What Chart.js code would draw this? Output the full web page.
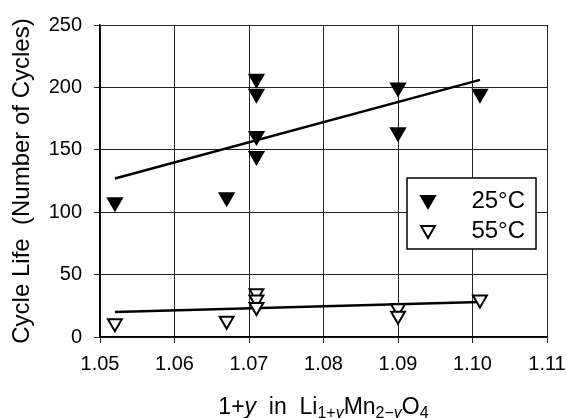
<!DOCTYPE html>
<html>
<head>
<meta charset="utf-8">
<script src="https://cdn.jsdelivr.net/npm/chart.js@4/dist/chart.umd.min.js"></script>
<style>
  html, body { margin: 0; padding: 0; background: #fff; }
  #wrap { width: 567px; height: 418px; }
</style>
</head>
<body>
<div id="wrap"><canvas id="cycleChart" width="567" height="418"></canvas></div>
<script>
const FONT = "'Liberation Sans', Arial, sans-serif";

// 25°C measurements
const comp25 = [1.052, 1.067, 1.071, 1.071, 1.071, 1.071, 1.090, 1.090, 1.101];
const cycles25 = [108, 112, 207, 195, 161, 145, 200, 164, 195];
// 55°C measurements
const comp55 = [1.052, 1.067, 1.071, 1.071, 1.071, 1.090, 1.090, 1.101];
const cycles55 = [11, 13, 35, 30, 24, 23, 17, 30];
// linear fits
const fitX = [1.052, 1.101];
const fit25 = [127, 206];
const fit55 = [20, 28];

const xTicks = [1.05, 1.06, 1.07, 1.08, 1.09, 1.10, 1.11];
const legendLabels = ["25°C", "55°C"];

const toPoints = (xs, ys) => xs.map((x, i) => ({ x: x, y: ys[i] }));

const ctx = document.getElementById("cycleChart").getContext("2d");

// legend box drawn inside the plot area
const boxLegend = {
  id: "boxLegend",
  afterDraw(chart) {
    const c = chart.ctx;
    const area = chart.chartArea;
    const left = area.left + 307, top = area.top + 153;
    const w = 129, h = 71;
    c.save();
    c.fillStyle = "#fff";
    c.fillRect(left, top, w, h);
    c.strokeStyle = "#000";
    c.lineWidth = 1.5;
    c.strokeRect(left, top, w, h);
    c.font = "24px " + FONT;
    c.textAlign = "right";
    c.textBaseline = "middle";
    [0, 1].forEach(i => {
      const ds = chart.data.datasets[i];
      const y = top + 22 + i * 30;
      const mx = left + 21;
      const r = ds.pointRadius;
      c.fillStyle = ds.pointBackgroundColor;
      c.strokeStyle = "#000";
      c.lineWidth = ds.pointBorderWidth;
      c.beginPath();
      c.moveTo(mx - r * 0.866, y - r / 2);
      c.lineTo(mx + r * 0.866, y - r / 2);
      c.lineTo(mx, y + r);
      c.closePath();
      c.fill();
      if (ds.pointBorderWidth) c.stroke();
      c.fillStyle = "#000";
      c.fillText(legendLabels[i], left + w - 11, y + 1);
    });
    c.restore();
  }
};

// x axis title with italic y and subscripts
const formulaTitle = {
  id: "formulaTitle",
  afterDraw(chart) {
    const c = chart.ctx;
    const area = chart.chartArea;
    const parts = [
      ["1+", "", 0], ["y", "italic ", 0], ["  in  Li", "", 0],
      ["1+", "", 1], ["y", "italic ", 1], ["Mn", "", 0],
      ["2\u2212", "", 1], ["y", "italic ", 1], ["O", "", 0], ["4", "", 1]
    ];
    const fontOf = p => p[1] + (p[2] ? "16px " : "23px ") + FONT;
    c.save();
    let total = 0;
    parts.forEach(p => { c.font = fontOf(p); total += c.measureText(p[0]).width; });
    let x = (area.left + area.right) / 2 - total / 2;
    const base = 414;
    c.fillStyle = "#000";
    c.textBaseline = "alphabetic";
    c.textAlign = "left";
    parts.forEach(p => {
      c.font = fontOf(p);
      c.fillText(p[0], x, base + (p[2] ? 4 : 0));
      x += c.measureText(p[0]).width;
    });
    c.restore();
  }
};

new Chart(ctx, {
  type: "scatter",
  data: {
    datasets: [
      {
        label: "25°C",
        data: toPoints(comp25, cycles25),
        pointStyle: "triangle",
        rotation: 180,
        pointRadius: 10,
        pointHoverRadius: 10,
        pointBackgroundColor: "#000",
        pointBorderColor: "#000",
        pointBorderWidth: 0,
        showLine: false,
      },
      {
        label: "55°C",
        data: toPoints(comp55, cycles55),
        pointStyle: "triangle",
        rotation: 180,
        pointRadius: 8,
        pointHoverRadius: 8,
        pointBackgroundColor: "#fff",
        pointBorderColor: "#000",
        pointBorderWidth: 2,
        showLine: false,
      },
      {
        label: "fit 25",
        data: toPoints(fitX, fit25),
        showLine: true,
        borderColor: "#000",
        borderWidth: 2.5,
        pointRadius: 0,
      },
      {
        label: "fit 55",
        data: toPoints(fitX, fit55),
        showLine: true,
        borderColor: "#000",
        borderWidth: 2.5,
        pointRadius: 0,
      },
    ],
  },
  options: {
    responsive: false,
    animation: false,
    layout: { padding: { top: 25, right: 20, left: 0, bottom: 0 } },
    plugins: {
      legend: { display: false },
      tooltip: { enabled: false },
    },
    scales: {
      x: {
        type: "linear",
        min: 1.05,
        max: 1.11,
        afterFit: s => {
          s.height = 81;
          s.paddingLeft = 0;
          s.paddingRight = 0;
        },
        afterBuildTicks: s => {
          s.ticks = xTicks.map(v => ({ value: v }));
        },
        ticks: {
          color: "#000",
          padding: 9,
          font: { family: FONT, size: 20 },
          callback: v => v.toFixed(2),
        },
        grid: { color: "#222", lineWidth: 1, tickLength: 6 },
        border: { color: "#000", width: 1.5 },
      },
      y: {
        min: 0,
        max: 250,
        afterFit: s => {
          s.width = 100;
          s.paddingTop = 0;
          s.paddingBottom = 0;
        },
        ticks: {
          stepSize: 50,
          color: "#000",
          padding: 12,
          font: { family: FONT, size: 20 },
        },
        grid: { color: "#222", lineWidth: 1, tickLength: 6 },
        border: { color: "#000", width: 1.5 },
        title: {
          display: true,
          text: "Cycle Life  (Number of Cycles)",
          color: "#000",
          font: { family: FONT, size: 24 },
          padding: { top: 8, bottom: 0 },
        },
      },
    },
  },
  plugins: [boxLegend, formulaTitle],
});
</script>
</body>
</html>
